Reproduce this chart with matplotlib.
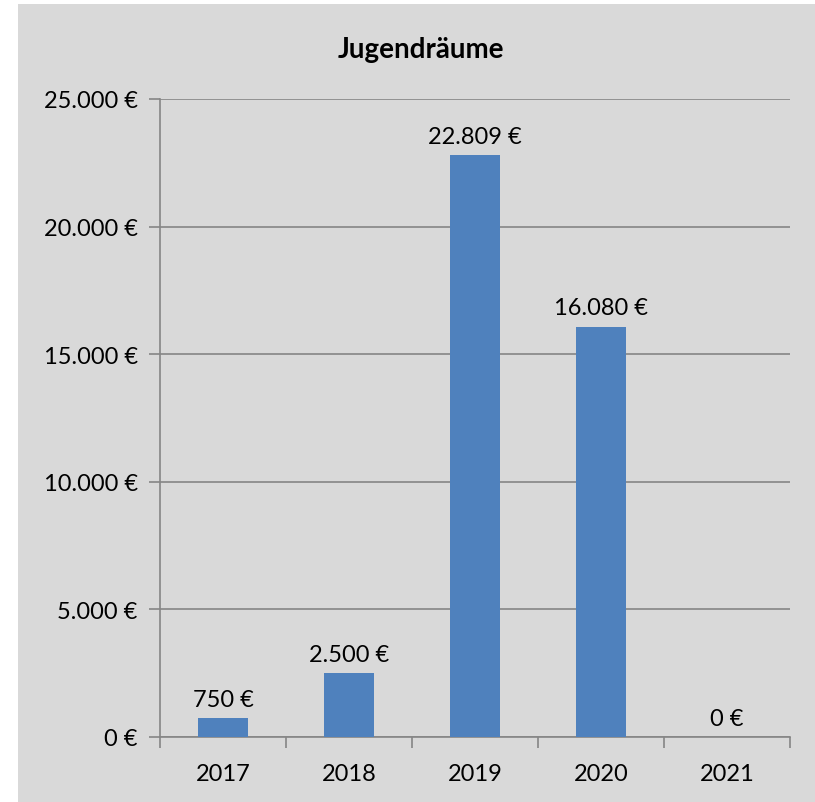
import matplotlib.pyplot as plt
from matplotlib.patches import Rectangle
from matplotlib.ticker import FuncFormatter, FixedLocator
import numpy as np

years = ["2017", "2018", "2019", "2020", "2021"]
amounts = [750, 2500, 22809, 16080, 0]
bar_labels = ["750 €", "2.500 €", "22.809 €", "16.080 €", "0 €"]
title = "Jugendräume"

plt.rcParams['font.family'] = ['Lato', 'DejaVu Sans']

bg = '#d9d9d9'
grid_col = '#868686'
fs = 17

def euro(v, pos):
    return "{:,.0f} €".format(v).replace(",", ".")

fig = plt.figure(figsize=(8.15, 8.03), dpi=100)
fig.patch.set_facecolor('white')
fig.patches.append(Rectangle((18 / 815, 0), 1, 1 - 5 / 803, transform=fig.transFigure,
                             facecolor=bg, edgecolor='none', zorder=-10))

ax = fig.add_axes([160 / 815, 1 - 738 / 803, 630 / 815, 638 / 803])
ax.set_facecolor(bg)

x = np.arange(len(years))
ax.bar(x, amounts, width=0.4, color='#4f81bd', zorder=3)

for xi, v, lab in zip(x, amounts, bar_labels):
    ax.annotate(lab, (xi, v), xytext=(0, 6), textcoords='offset points',
                ha='center', va='bottom', fontsize=fs, color='black')

ax.set_xlim(-0.5, len(years) - 0.5)
ax.set_ylim(0, 25000)
ax.set_yticks(np.arange(0, 25001, 5000))
ax.yaxis.set_major_formatter(FuncFormatter(euro))
ax.set_xticks(x)
ax.set_xticklabels(years)
ax.xaxis.set_minor_locator(FixedLocator(np.arange(-0.5, len(years), 1.0)))

ax.grid(axis='y', color=grid_col, linewidth=1.2, zorder=0)
for s in ['top', 'right']:
    ax.spines[s].set_visible(False)
for s in ['left', 'bottom']:
    ax.spines[s].set_color(grid_col)
    ax.spines[s].set_linewidth(1.2)

ax.tick_params(axis='y', length=8, width=1.2, color=grid_col, labelsize=fs, pad=8)
ax.tick_params(axis='x', which='major', length=0, labelsize=fs, pad=19)
ax.tick_params(axis='x', which='minor', length=8, width=1.2, color=grid_col)

fig.text(421 / 815, 1 - 50 / 803, title, ha='center', va='center',
         fontsize=20, fontweight='bold')

fig.savefig('out.png', dpi=100)
